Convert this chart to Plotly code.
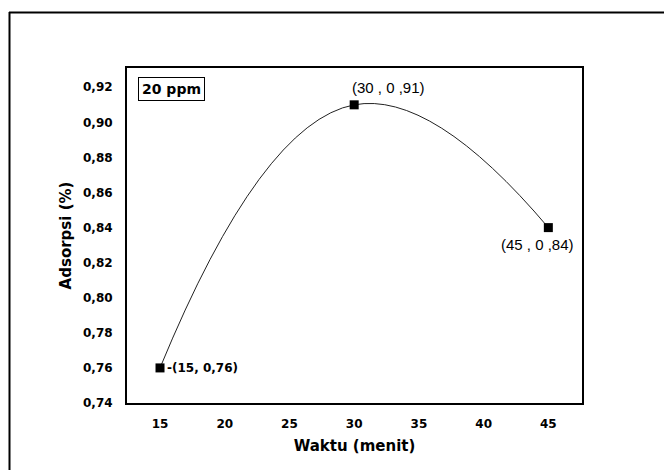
import plotly.graph_objects as go

waktu = [15, 30, 45]
adsorpsi = [0.76, 0.91, 0.84]
point_labels = ["-(15, 0,76)", "(30 , 0 ,91)", "(45 , 0 ,84)"]
x_ticks = [15, 20, 25, 30, 35, 40, 45]
y_ticks = [0.74, 0.76, 0.78, 0.80, 0.82, 0.84, 0.86, 0.88, 0.90, 0.92]
y_tick_text = ["0,74", "0,76", "0,78", "0,80", "0,82", "0,84", "0,86", "0,88", "0,90", "0,92"]

BOLD_FONT = "DejaVu Sans, sans-serif"
THIN_FONT = "Liberation Sans, Arial, sans-serif"

fig = go.Figure()
fig.add_trace(go.Scatter(
    x=waktu, y=adsorpsi, mode="lines+markers",
    line=dict(color="#222222", width=1, shape="spline", smoothing=1.3),
    marker=dict(symbol="square", size=9, color="black"),
    showlegend=False, hoverinfo="skip",
))

label_style = [
    dict(xshift=5, yshift=0, xanchor="left", bold=True, size=12, family=BOLD_FONT),
    dict(xshift=34, yshift=17, xanchor="center", bold=False, size=15, family=THIN_FONT),
    dict(xshift=-11, yshift=-17, xanchor="center", bold=False, size=15, family=THIN_FONT),
]
for xv, yv, txt, st in zip(waktu, adsorpsi, point_labels, label_style):
    fig.add_annotation(
        x=xv, y=yv, xref="x", yref="y", showarrow=False,
        text=("<b>%s</b>" % txt) if st["bold"] else txt,
        xshift=st["xshift"], yshift=st["yshift"],
        xanchor=st["xanchor"], yanchor="middle",
        font=dict(family=st["family"], size=st["size"], color="black"),
    )

W, H = 664, 462
L, R, T, B = 119, 90, 60, 67
pw, ph = W - L - R, H - T - B

def px_x(p):
    return (p - L) / pw

def px_y(p):
    return 1 - (p - T) / ph

fig.add_annotation(
    x=px_x(130), y=px_y(69), xref="paper", yref="paper", showarrow=False,
    text="<b>20 ppm</b>", xanchor="left", yanchor="top",
    font=dict(family=BOLD_FONT, size=14, color="black"),
    bordercolor="black", borderwidth=1, borderpad=3, bgcolor="white",
)

# outer frame lines (top and left)
fig.add_shape(type="line", xref="paper", yref="paper",
              x0=px_x(1), x1=px_x(W), y0=px_y(4.5), y1=px_y(4.5),
              line=dict(color="black", width=2))
fig.add_shape(type="line", xref="paper", yref="paper",
              x0=px_x(1.5), x1=px_x(1.5), y0=px_y(4), y1=px_y(H),
              line=dict(color="black", width=2))

fig.update_layout(
    width=W, height=H,
    margin=dict(l=L, r=R, t=T, b=B),
    paper_bgcolor="white", plot_bgcolor="white",
    font=dict(family=BOLD_FONT, color="black"),
    xaxis=dict(
        range=[12.45, 47.6], tickvals=x_ticks, ticktext=[str(v) for v in x_ticks],
        showgrid=False, zeroline=False, showline=True, mirror=True,
        linecolor="black", linewidth=2, ticks="", ticklabelstandoff=9,
        tickfont=dict(family=BOLD_FONT, size=12, weight="bold"),
        title=dict(text="<b>Waktu (menit)</b>", font=dict(family=BOLD_FONT, size=15), standoff=10),
    ),
    yaxis=dict(
        range=[0.74, 0.931], tickvals=y_ticks, ticktext=y_tick_text,
        showgrid=False, zeroline=False, showline=True, mirror=True,
        linecolor="black", linewidth=2, ticks="", ticklabelstandoff=10,
        tickfont=dict(family=BOLD_FONT, size=12, weight="bold"),
        title=dict(text="<b>Adsorpsi (%)</b>", font=dict(family=BOLD_FONT, size=15), standoff=8),
    ),
)

fig.write_html("out.html")
